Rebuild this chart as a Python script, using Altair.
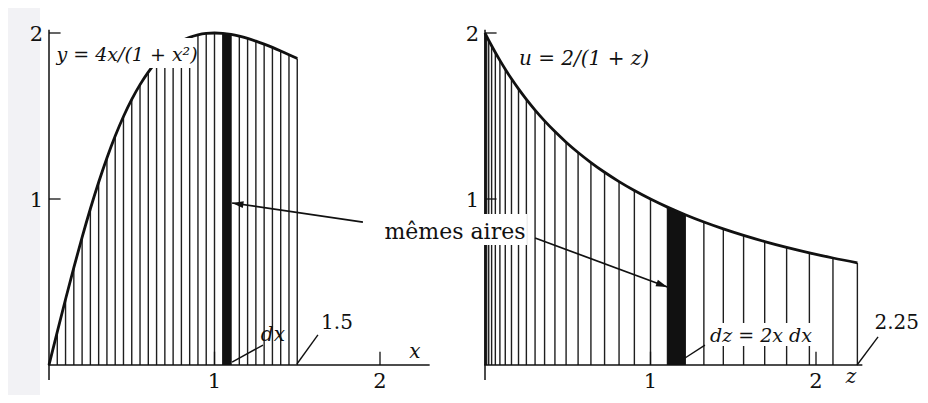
import math
import altair as alt
import pandas as pd

# ---------------- data ----------------
# left panel: hatch positions x (step dx = 0.05) and y = 4x/(1+x^2)
x_vals = [0.00, 0.05, 0.10, 0.15, 0.20, 0.25, 0.30, 0.35, 0.40, 0.45, 0.50,
          0.55, 0.60, 0.65, 0.70, 0.75, 0.80, 0.85, 0.90, 0.95, 1.00,
          1.05, 1.10, 1.15, 1.20, 1.25, 1.30, 1.35, 1.40, 1.45, 1.50]
y_vals = [0.0000, 0.1995, 0.3960, 0.5868, 0.7692, 0.9412, 1.1009, 1.2472, 1.3793, 1.4969, 1.6000,
          1.6891, 1.7647, 1.8278, 1.8792, 1.9200, 1.9512, 1.9739, 1.9890, 1.9974, 2.0000,
          1.9976, 1.9910, 1.9806, 1.9672, 1.9512, 1.9331, 1.9132, 1.8919, 1.8695, 1.8462]
# right panel: hatch positions z = x^2 and u = 2/(1+z)
z_vals = [0.0000, 0.0025, 0.0100, 0.0225, 0.0400, 0.0625, 0.0900, 0.1225, 0.1600, 0.2025, 0.2500,
          0.3025, 0.3600, 0.4225, 0.4900, 0.5625, 0.6400, 0.7225, 0.8100, 0.9025, 1.0000,
          1.1025, 1.2100, 1.3225, 1.4400, 1.5625, 1.6900, 1.8225, 1.9600, 2.1025, 2.2500]
u_vals = [2.0000, 1.9950, 1.9802, 1.9560, 1.9231, 1.8824, 1.8349, 1.7817, 1.7241, 1.6632, 1.6000,
          1.5355, 1.4706, 1.4060, 1.3423, 1.2800, 1.2195, 1.1611, 1.1050, 1.0512, 1.0000,
          0.9512, 0.9050, 0.8611, 0.8197, 0.7805, 0.7435, 0.7086, 0.6757, 0.6446, 0.6154]
strip_index = [21, 22]          # highlighted strip: x 1.05..1.10  <->  z 1.1025..1.21
tick_values = [1, 2]
tick_labels = ["1", "2"]

# ---------------- layout ----------------
W, H = 912, 387
PX, PY = 165.5, 166.0                      # pixels per unit
FONT = "DejaVu Serif"
INK = "#111111"
XL = alt.Scale(domain=[-41 / PX, -41 / PX + W / PX], nice=False, zero=False)
XR = alt.Scale(domain=[-477 / PX, -477 / PX + W / PX], nice=False, zero=False)
YS = alt.Scale(domain=[-30 / PY, -30 / PY + H / PY], nice=False, zero=False)


def X(f, s):
    return alt.X(f"{f}:Q", scale=s, axis=None)


def Y(f):
    return alt.Y(f"{f}:Q", scale=YS, axis=None)


left = pd.DataFrame({"x": x_vals, "y": y_vals, "base": 0.0})
right = pd.DataFrame({"x": z_vals, "y": u_vals, "base": 0.0})
ticks = pd.DataFrame({"v": tick_values, "t": tick_labels})

layers = []


def box(x0, x1, y0, y1, s, color="white"):
    d = pd.DataFrame({"x0": [x0], "x1": [x1], "y0": [y0], "y1": [y1]})
    return alt.Chart(d).mark_rect(color=color).encode(x=X("x0", s), x2="x1", y=Y("y0"), y2="y1")


# faint grey scan band at the far left
layers.append(box(-41 / PX, -9 / PX, -30 / PY, -30 / PY + H / PY, XL, color="#f2f2f5"))


def panel(df, s):
    out = []
    # hatching
    out.append(alt.Chart(df).mark_rule(color="#1e1e1e", strokeWidth=1.4)
               .encode(x=X("x", s), y=Y("base"), y2="y"))
    # dark strip
    out.append(alt.Chart(df.iloc[strip_index]).mark_area(color=INK)
               .encode(x=X("x", s), y=Y("y"), y2="base"))
    # curve
    out.append(alt.Chart(df).mark_line(color=INK, strokeWidth=2.8, interpolate="monotone")
               .encode(x=X("x", s), y=Y("y")))
    # axes
    ax = pd.DataFrame({"x0": [0.0, -0.005], "x1": [0.0, 2.30 if s is XL else 2.28],
                       "y0": [-0.09, 0.0], "y1": [2.02, 0.0]})
    out.append(alt.Chart(ax).mark_rule(color=INK, strokeWidth=1.5)
               .encode(x=X("x0", s), x2="x1", y=Y("y0"), y2="y1"))
    # tick marks (drawn inward)
    yt = ticks.assign(a=0.0, b=0.07)
    out.append(alt.Chart(yt).mark_rule(color=INK, strokeWidth=1.3)
               .encode(x=X("a", s), x2="b", y=Y("v")))
    xt = ticks.assign(a=0.0, b=0.08)
    out.append(alt.Chart(xt).mark_rule(color=INK, strokeWidth=1.3)
               .encode(x=X("v", s), y=Y("a"), y2="b"))
    return out


layers += panel(left, XL)
layers += panel(right, XR)


def seg(x0, y0, x1, y1, s, w=1.4):
    d = pd.DataFrame({"x0": [x0], "x1": [x1], "y0": [y0], "y1": [y1]})
    return alt.Chart(d).mark_rule(color=INK, strokeWidth=w).encode(x=X("x0", s), x2="x1", y=Y("y0"), y2="y1")


def label(x, y, text, s, size=20, align="center", italic=False, dy=0):
    d = pd.DataFrame({"x": [x], "y": [y], "t": [text]})
    kw = dict(font=FONT, fontSize=size, align=align, baseline="middle", color=INK, dy=dy)
    if italic:
        kw["fontStyle"] = "italic"
    return alt.Chart(d).mark_text(**kw).encode(x=X("x", s), y=Y("y"), text="t:N")


ARROW = "M0,0 L-1,-0.3 L-1,0.3 Z"


def arrow(x0, y0, x1, y1, s):
    ang = math.degrees(math.atan2(-(y1 - y0) * PY, (x1 - x0) * PX)) % 360
    d = pd.DataFrame({"x": [x1], "y": [y1]})
    head = alt.Chart(d).mark_point(shape=ARROW, filled=True, color=INK, size=520,
                                   angle=ang, opacity=1).encode(x=X("x", s), y=Y("y"))
    return [seg(x0, y0, x1, y1, s, 1.7), head]


# white boxes behind labels
layers.append(box(0.036, 0.864, 1.789, 1.970, XL))
layers.append(box(1.34, 2.00, 0.114, 0.253, XR))
layers.append(box(2.018, 2.888, 0.723, 0.910, XL))

# tick labels
for s in (XL, XR):
    layers.append(alt.Chart(ticks).mark_text(font=FONT, fontSize=21, align="right", baseline="middle",
                                             color=INK, dy=2)
                  .encode(x=alt.X("xx:Q", scale=s, axis=None), y=Y("v"), text="t:N")
                  .transform_calculate(xx="-0.035"))
    layers.append(alt.Chart(ticks).mark_text(font=FONT, fontSize=21, align="center", baseline="middle",
                                             color=INK)
                  .encode(x=X("v", s), y=alt.Y("yy:Q", scale=YS, axis=None), text="t:N")
                  .transform_calculate(yy="-0.102"))

# annotations
layers.append(label(0.045, 1.867, "y = 4x/(1 + x²)", XL, size=19, align="left", italic=True))
layers.append(label(0.205, 1.843, "u = 2/(1 + z)", XR, size=20, align="left", italic=True))
layers.append(label(2.453, 0.801, "mêmes aires", XL, size=22))
layers.append(label(1.353, 0.181, "dx", XL, size=20, italic=True))
layers.append(label(1.740, 0.253, "1.5", XL, size=20))
layers.append(label(2.211, 0.078, "x", XL, size=20, italic=True))
layers.append(label(1.668, 0.175, "dz = 2x dx", XR, size=19, italic=True))
layers.append(label(2.622, 0.253, "2.25", XR, size=20, align="right"))
layers.append(label(2.211, -0.072, "z", XR, size=20, italic=True))

# leader lines
layers.append(seg(1.106, 0.018, 1.293, 0.120, XL))
layers.append(seg(1.498, 0.006, 1.625, 0.181, XL))
layers.append(seg(1.190, 0.030, 1.329, 0.120, XR))
layers.append(seg(2.248, 0.000, 2.375, 0.169, XR))

# arrows from "mêmes aires" to the two strips
layers += arrow(1.897, 0.861, 1.106, 0.976, XL)
layers += arrow(2.937, 0.765, 3.7365, 0.470, XL)

chart = (alt.layer(*layers)
         .resolve_scale(x="independent")
         .properties(width=W, height=H, padding=0, autosize=alt.AutoSizeParams(type="none"),
                     background="white")
         .configure_view(strokeWidth=0))

chart.save("out.html", embed_options={"renderer": "svg", "actions": False})
